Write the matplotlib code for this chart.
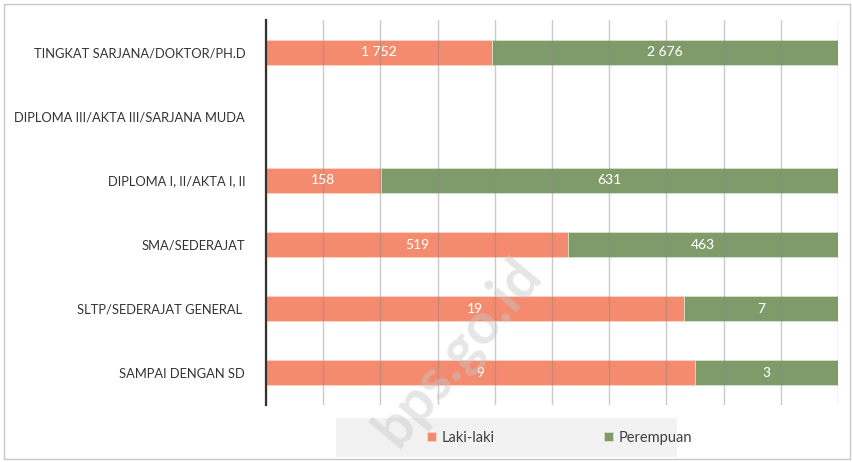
import numpy as np
import matplotlib.pyplot as plt
from matplotlib.patches import Rectangle

categories = [
    "TINGKAT SARJANA/DOKTOR/PH.D",
    "DIPLOMA III/AKTA III/SARJANA MUDA",
    "DIPLOMA I, II/AKTA I, II",
    "SMA/SEDERAJAT",
    "SLTP/SEDERAJAT GENERAL ",
    "SAMPAI DENGAN SD",
]
laki = [1752, 0, 158, 519, 19, 9]
perempuan = [2676, 0, 631, 463, 7, 3]
laki_labels = ["1 752", "", "158", "519", "19", "9"]
perempuan_labels = ["2 676", "", "631", "463", "7", "3"]

plt.rcParams["font.family"] = ["Lato", "DejaVu Sans"]

c_laki = "#f48a6e"
c_perempuan = "#7f9b69"

fig = plt.figure(figsize=(8.54, 4.62), dpi=100)
ax = fig.add_axes([266 / 854, 1 - 405 / 462, 572 / 854, 385 / 462])

laki = np.array(laki, dtype=float)
perempuan = np.array(perempuan, dtype=float)
total = laki + perempuan
share_l = np.divide(laki, total, out=np.zeros_like(laki), where=total > 0)
share_p = np.divide(perempuan, total, out=np.zeros_like(perempuan), where=total > 0)

y = np.arange(len(categories))
ax.barh(y, share_l, height=0.39, color=c_laki, edgecolor="#fbd6c9", linewidth=0.6,
        label="Laki-laki", zorder=2)
ax.barh(y, share_p, left=share_l, height=0.39, color=c_perempuan, edgecolor="#d6e2cb",
        linewidth=0.6, label="Perempuan", zorder=2)

for i in range(len(categories)):
    if laki_labels[i]:
        ax.text(share_l[i] / 2, y[i], laki_labels[i], ha="center", va="center",
                color="white", fontsize=10, fontweight="medium", zorder=4)
    if perempuan_labels[i]:
        ax.text(share_l[i] + share_p[i] / 2, y[i], perempuan_labels[i], ha="center",
                va="center", color="white", fontsize=10, fontweight="medium", zorder=4)

ax.set_xlim(0, 1)
ax.set_ylim(len(categories) - 0.5, -0.5)
ax.set_xticks(np.linspace(0, 1, 11))
ax.set_xticklabels([])
ax.tick_params(axis="x", length=0)
ax.grid(axis="x", color="#8c8c8c", alpha=0.45, linewidth=1.0, zorder=3)
ax.set_axisbelow(False)

ax.set_yticks(y)
ax.set_yticklabels(categories, fontsize=9.3, color="#333333")
ax.tick_params(axis="y", length=0, pad=15)

for s in ["top", "right", "bottom"]:
    ax.spines[s].set_visible(False)
ax.spines["left"].set_color("#333333")
ax.spines["left"].set_linewidth(1.6)
ax.spines["left"].set_zorder(5)

# legend panel
fig.patches.append(Rectangle((336 / 854, 1 - 457 / 462), 341 / 854, 39 / 462,
                             transform=fig.transFigure, facecolor="#f2f2f2",
                             edgecolor="none", zorder=0))
leg = fig.legend(loc="center", bbox_to_anchor=(560 / 854, 1 - 438 / 462), ncol=2,
                 frameon=False, fontsize=10.5, handlelength=0.6, handleheight=0.6,
                 columnspacing=7.5, handletextpad=0.4, labelcolor="#404040")

# outer frame
fig.patches.append(Rectangle((4 / 854, 3 / 462), 846 / 854, 455 / 462,
                             transform=fig.transFigure, facecolor="none",
                             edgecolor="#c8c8c8", linewidth=1.0, zorder=0))

# watermark
fig.text(458 / 854, 1 - 352 / 462, "bps.go.id", rotation=50, ha="center", va="center",
         fontsize=41, fontweight="bold", color="#c8c8c8", alpha=0.45, zorder=10)

fig.savefig("out.png", dpi=100)
